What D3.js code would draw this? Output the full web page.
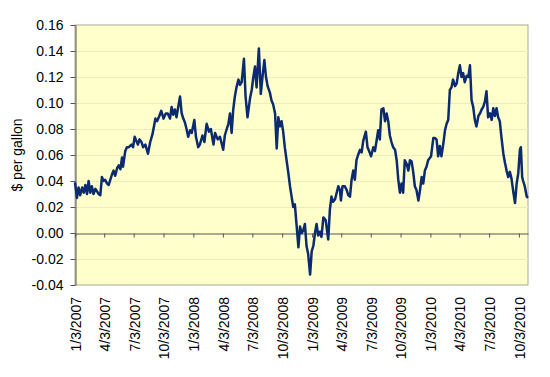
<!DOCTYPE html>
<html>
<head>
<meta charset="utf-8">
<script src="https://cdn.jsdelivr.net/npm/d3@7"></script>
<style>
body{margin:0;background:#fff;}
text{font-family:"Liberation Sans",Arial,sans-serif;fill:#000;}
</style>
</head>
<body>
<div id="chart"></div>
<script>
// days counted from 1/3/2007, and the spread in $ per gallon on that day
var startDate = new Date(2007,0,3);
var days = [
0,6,11,16,22,27,32,37,42,47,52,57,63,68,73,78,83,88,93,99,104,109,114,119,124,130,135,140,145,148,155,160,166,174,179,184,189,194,199,205,210,217,225,232,239,248,253,260,266,273,280,
286,293,298,303,308,313,319,324,329,334,339,344,349,355,360,368,373,380,385,393,399,406,413,419,427,432,440,447,457,462,468,473,478,483,488,493,498,504,509,514,521,526,532,540,545,550,
555,560,567,573,579,584,589,594,601,606,611,617,622,627,632,637,642,647,653,658,663,668,673,678,683,689,694,699,704,709,714,719,725,730,735,740,745,750,755,760,766,773,781,786,791,796,802,807,812,817,820,825,
832,838,843,848,853,858,863,868,873,879,884,889,897,902,907,913,920,925,930,935,940,945,951,956,961,966,971,976,981,987,992,997,1002,1007,1012,1017,1023,1028,1033,1038,1043,1048,1053,1059,1064,1069,1074,1079,1084,1089,1098,1105,
1110,1115,1120,1125,1130,1136,1141,1146,1151,1156,1161,1166,1172,1177,1182,1187,1192,1197,1202,1208,1213,1218,1223,1228,1233,1238,1244,1249,1254,1259,1264,1269,1274,1280,1285,1290,1295,1300,1305,1310,1315,1321,1326,1331,1336,1341,1346,1352,1357,1362,1367,1372,1375,1379,1382,1387,1393,1397
];
var spread = [
0.039,0.027,0.035,0.029,0.035,0.031,0.037,0.030,0.040,0.031,0.036,0.030,0.034,0.032,0.030,0.029,0.043,0.040,0.041,0.038,0.037,0.041,0.045,0.048,0.044,0.050,0.052,0.049,0.058,0.051,0.063,0.066,0.066,0.068,0.066,0.074,0.071,0.068,0.072,0.070,0.066,0.068,0.061,0.070,0.076,0.088,0.086,0.090,0.094,0.088,0.092,
0.092,0.088,0.097,0.091,0.095,0.089,0.098,0.105,0.092,0.088,0.085,0.080,0.074,0.079,0.077,0.087,0.074,0.066,0.068,0.075,0.070,0.084,0.078,0.080,0.068,0.077,0.072,0.074,0.064,0.075,0.080,0.084,0.092,0.077,0.095,0.105,0.112,0.118,0.114,0.116,0.134,0.105,0.089,0.104,0.110,0.120,
0.128,0.112,0.142,0.107,0.122,0.133,0.120,0.113,0.108,0.102,0.099,0.092,0.065,0.089,0.082,0.086,0.078,0.066,0.055,0.046,0.036,0.028,0.020,0.022,0.007,-0.011,0.005,0.000,0.002,0.007,-0.010,-0.016,-0.032,-0.014,-0.010,0.000,0.007,-0.002,0.001,-0.003,0.012,0.010,-0.005,0.018,0.028,0.024,0.026,0.031,0.036,0.033,0.025,0.036,
0.036,0.033,0.029,0.028,0.041,0.048,0.041,0.056,0.060,0.064,0.062,0.071,0.078,0.066,0.063,0.059,0.066,0.063,0.071,0.079,0.072,0.095,0.096,0.086,0.092,0.086,0.075,0.070,0.066,0.064,0.056,0.041,0.031,0.038,0.031,0.056,0.053,0.048,0.056,0.055,0.047,0.036,0.033,0.025,0.033,0.043,0.038,0.048,0.051,0.056,0.059,0.073,
0.073,0.072,0.059,0.067,0.059,0.069,0.079,0.084,0.087,0.110,0.112,0.118,0.113,0.115,0.123,0.129,0.120,0.123,0.116,0.121,0.120,0.129,0.102,0.097,0.087,0.082,0.090,0.092,0.095,0.097,0.101,0.109,0.089,0.092,0.087,0.096,0.090,0.096,0.089,0.086,0.074,0.061,0.054,0.048,0.043,0.047,0.042,0.031,0.023,0.038,0.046,0.064,0.066,0.043,0.040,0.036,0.028,0.027
];
var dateLabels = ["1/3/2007","4/3/2007","7/3/2007","10/3/2007","1/3/2008","4/3/2008","7/3/2008","10/3/2008",
                  "1/3/2009","4/3/2009","7/3/2009","10/3/2009","1/3/2010","4/3/2010","7/3/2010","10/3/2010"];
var yTicks = [-0.04,-0.02,0,0.02,0.04,0.06,0.08,0.10,0.12,0.14,0.16];
var yTitle = "$ per gallon";

var w = 550, h = 377;
var plot = {left:75, right:528, top:25, bottom:285};
var parseDate = d3.timeParse("%m/%d/%Y");

var data = [];
for(var i=0;i<days.length;i++){
  data.push({date:d3.timeDay.offset(startDate,days[i]), v:spread[i]});
}
var tickDates = dateLabels.map(function(s){return parseDate(s);});

var svg = d3.select("#chart").append("svg")
  .attr("width",w)
  .attr("height",h);

var x = d3.scaleTime()
  .domain([startDate, d3.timeDay.offset(startDate,1397)])
  .range([plot.left, plot.right]);
var y = d3.scaleLinear()
  .domain([-0.04,0.16])
  .range([plot.bottom, plot.top]);

// plot area
svg.append("rect")
  .attr("x",plot.left)
  .attr("y",plot.top)
  .attr("width",plot.right-plot.left)
  .attr("height",plot.bottom-plot.top)
  .attr("fill","#ffffcc")
  .attr("stroke","#a9a98f")
  .attr("stroke-width",1);

// gridlines
svg.append("g").selectAll("line")
  .data(yTicks.filter(function(d){return d>-0.04 && d<0.16 && d!==0;}))
  .enter().append("line")
  .attr("x1",plot.left).attr("x2",plot.right)
  .attr("y1",function(d){return Math.round(y(d))+0.5;})
  .attr("y2",function(d){return Math.round(y(d))+0.5;})
  .attr("stroke","#ebebbd")
  .attr("stroke-width",1);

// y axis
var yAxis = svg.append("g")
  .attr("transform","translate("+(plot.left+0.5)+",0)")
  .call(d3.axisLeft(y).tickValues(yTicks).tickFormat(d3.format(".2f")).tickSize(5).tickSizeOuter(0).tickPadding(7));
yAxis.select(".domain").attr("stroke","#555");
yAxis.selectAll(".tick line").attr("stroke","#555");
yAxis.selectAll("text").style("font-size","14px").attr("fill","#000")
  .text(function(d){return d3.format(".2f")(d).replace("−","-");});

// x axis line at zero
var xAxis = svg.append("g")
  .attr("transform","translate(0,"+(Math.round(y(0))+0.5)+")")
  .call(d3.axisBottom(x).tickValues(tickDates).tickFormat("").tickSize(4).tickSizeOuter(0));
xAxis.select(".domain").attr("stroke","#555");
xAxis.selectAll(".tick line").attr("stroke","#555");

// date labels under the plot
svg.append("g").selectAll("text")
  .data(tickDates)
  .enter().append("text")
  .attr("transform",function(d){return "translate("+(x(d)+1)+","+(plot.bottom+12)+") rotate(-90)";})
  .attr("text-anchor","end")
  .attr("dy","0.35em")
  .style("font-size","14px")
  .text(function(d,i){return dateLabels[i];});

// y title
svg.append("text")
  .attr("transform","translate(22,"+((plot.top+plot.bottom)/2)+") rotate(-90)")
  .attr("text-anchor","middle")
  .style("font-size","14px")
  .text(yTitle);

// the series
var line = d3.line()
  .x(function(d){return x(d.date);})
  .y(function(d){return y(d.v);});
svg.append("path")
  .datum(data)
  .attr("d",line)
  .attr("fill","none")
  .attr("stroke","#0b2a6f")
  .attr("stroke-width",2.5)
  .attr("stroke-linejoin","round");
</script>
</body>
</html>
